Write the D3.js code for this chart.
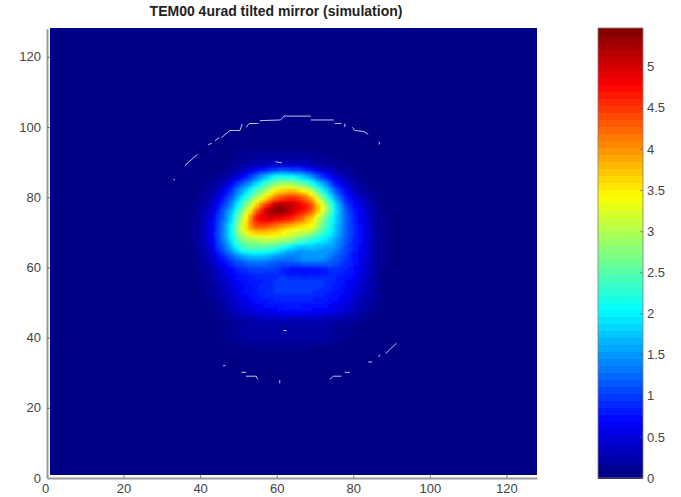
<!DOCTYPE html>
<html>
<head>
<meta charset="utf-8">
<script src="https://cdn.jsdelivr.net/npm/d3@7"></script>
<style>
body { margin: 0; background: #fff; }
text { font-family: "Liberation Sans", Arial, sans-serif; fill: #444; }
</style>
</head>
<body>
<div id="chart"></div>
<script>
// Valeurs
var title = "TEM00 4urad tilted mirror (simulation)";
var xTicks = [0, 20, 40, 60, 80, 100, 120];
var yTicks = [0, 20, 40, 60, 80, 100, 120];
var barTicks = [0, 0.5, 1, 1.5, 2, 2.5, 3, 3.5, 4, 4.5, 5];
var maxValue = 5.47;

// colonnes et lignes de la grille lue (unites de l'axe), zero en dehors
var gridX = [36, 39, 42, 45, 48, 51, 54, 57, 60, 63, 66, 69, 72, 75, 78, 81, 84, 87, 90];
var gridY = [98, 95, 92, 89, 86, 83, 80, 77, 74, 71, 68, 65, 62, 59, 56, 53, 50, 47, 44, 41, 38, 35];
var intensity = [
    [0, 0, 0, 0, 0, .01, .02, .02, .02, .02, .02, .02, .02, .01, 0, 0, 0, 0, 0],
    [0, 0, 0, .02, .03, .04, .05, .05, .05, .05, .05, .05, .04, .03, .02, 0, 0, 0, 0],
    [0, 0, .02, .04, .06, .1, .13, .15, .15, .15, .14, .12, .1, .07, .04, .02, 0, 0, 0],
    [0, .01, .02, .05, .1, .2, .3, .4, .45, .45, .45, .35, .25, .15, .1, .05, .02, 0, 0],
    [.01, .02, .05, .12, .3, .6, 1.1, 1.6, 2, 2, 1.8, 1.4, .9, .5, .25, .1, .04, .01, 0],
    [.02, .05, .12, .32, .8, 1.4, 2, 2.6, 3.1, 3.2, 3, 2.5, 1.8, 1, .5, .22, .08, .02, 0],
    [.03, .08, .2, .6, 1.2, 2, 2.8, 3.5, 4.2, 4.5, 4.4, 3.7, 2.6, 1.6, .85, .45, .2, .06, .01],
    [.04, .12, .35, .85, 1.6, 2.6, 3.7, 4.8, 5.4, 5.2, 4.9, 4.4, 3.3, 2.05, 1.1, .65, .32, .1, .02],
    [.05, .15, .45, 1.05, 1.9, 3.1, 4.5, 5, 4.9, 4.7, 4.3, 3.7, 2.8, 1.95, 1.2, .75, .4, .14, .03],
    [.05, .16, .5, 1.15, 2.1, 3.3, 4.1, 4.1, 3.9, 3.6, 3.4, 3.2, 2.5, 1.85, 1.2, .8, .42, .15, .03],
    [.05, .16, .5, 1.15, 2, 2.8, 3, 3.1, 3.1, 2.9, 2.6, 2.3, 2, 1.65, 1.15, .8, .42, .15, .03],
    [.04, .12, .4, .95, 1.6, 2.2, 2.35, 2.3, 2.1, 1.75, 1.55, 1.6, 1.55, 1.4, 1.05, .75, .4, .15, .03],
    [.03, .1, .3, .65, 1.05, 1.35, 1.5, 1.45, 1.3, 1.25, 1.4, 1.45, 1.4, 1.2, .95, .7, .38, .14, .03],
    [.03, .08, .2, .42, .7, .9, 1, 1, .95, .8, .72, .72, .8, .92, .85, .62, .34, .12, .03],
    [.02, .06, .15, .32, .55, .72, .82, .88, .95, .98, .98, .98, .95, .85, .72, .55, .3, .11, .02],
    [.02, .05, .11, .25, .45, .65, .8, .9, .95, .98, .98, .95, .9, .8, .65, .45, .26, .1, .02],
    [.01, .03, .08, .18, .35, .52, .68, .78, .82, .84, .84, .82, .78, .68, .54, .36, .2, .08, .02],
    [0, .02, .05, .12, .24, .38, .5, .58, .62, .64, .64, .62, .58, .5, .38, .25, .12, .05, .01],
    [0, .01, .03, .07, .12, .17, .2, .22, .22, .22, .22, .22, .2, .18, .14, .09, .05, .02, 0],
    [0, 0, .03, .07, .13, .18, .22, .24, .24, .24, .24, .24, .2, .16, .11, .07, .03, .01, 0],
    [0, 0, .01, .03, .08, .11, .13, .14, .14, .14, .14, .13, .11, .08, .05, .02, 0, 0, 0],
    [0, 0, 0, 0, .01, .02, .03, .03, .03, .03, .03, .03, .02, .01, 0, 0, 0, 0, 0]
];

// petits traits blancs de l'anneau (x, y)
var speckles = [
    [[36, 89], [39.3, 92.2]], [[33, 85], [33.4, 85]],
    [[42.1, 95], [43, 95.3]], [[43.9, 96.1], [45, 97]],
    [[45.6, 97], [47.8, 99], [50.4, 99], [51, 100.9]],
    [[52, 99.9], [52.8, 101], [55.2, 101]],
    [[55.6, 101.8], [61, 102], [61.9, 103.1], [68.9, 103.1]],
    [[68.9, 102], [74.9, 102]], [[75.2, 101], [76.9, 101]],
    [[77.8, 101], [77.8, 100]],
    [[79.8, 99.9], [80.4, 99], [82.8, 98.7], [83.9, 97.9]],
    [[86.8, 95.8], [86.8, 95]],
    [[59.7, 90.1], [61.3, 89.8]], [[61.7, 42], [62.6, 42]],
    [[88.5, 35.5], [91.3, 38.4]], [[86.5, 34.6], [87.1, 35]],
    [[83.9, 33], [84.9, 33.1]],
    [[73.9, 28.1], [74.8, 29], [76.9, 29]], [[77.8, 30.1], [79.1, 30.1]],
    [[46, 32], [46.6, 32]], [[50.8, 30.1], [52, 30.1]],
    [[52, 29], [54.7, 29], [55, 28.1]], [[60.8, 27.9], [60.8, 27]]
];

// Dimensions
var width = 681, height = 497;
var svg = d3.select("#chart").append("svg")
    .attr("width", width)
    .attr("height", height)
    .style("display", "block");

// Echelles
var x = d3.scaleLinear().domain([0, 128]).range([47, 537]);
var y = d3.scaleLinear().domain([0, 128]).range([478, 28.7]);
var cellX = d3.scaleBand().domain(d3.range(128)).range([50, 537]);
var cellY = d3.scaleBand().domain(d3.range(128)).range([475, 28]);
var barY = d3.scaleLinear().domain([0, maxValue]).range([478, 28]);

// palette jet a 64 niveaux
function jet(t) {
    function c(v) { return Math.round(255 * Math.max(0, Math.min(1, v))); }
    return d3.rgb(c(1.5 - Math.abs(4 * t - 3)), c(1.5 - Math.abs(4 * t - 2)), c(1.5 - Math.abs(4 * t - 1))).formatHex();
}
var jetColors = d3.range(64).map(function (i) { return jet((i + 0.5) / 64); });
var color = d3.scaleQuantize().domain([0, maxValue]).range(jetColors);

// lissage de la grille a l'affichage (comme shading interp)
function cubic(p0, p1, p2, p3, t) {
    return p1 + 0.5 * t * (p2 - p0 + t * (2 * p0 - 5 * p1 + 4 * p2 - p3 + t * (3 * (p1 - p2) + p3 - p0)));
}
function at(r, c) {
    r = Math.max(0, Math.min(gridY.length - 1, r));
    c = Math.max(0, Math.min(gridX.length - 1, c));
    return intensity[r][c];
}
function sample(vx, vy) {
    var fc = (vx - gridX[0]) / (gridX[1] - gridX[0]);
    var fr = (gridY[0] - vy) / (gridY[0] - gridY[1]);
    if (fc < 0 || fr < 0 || fc > gridX.length - 1 || fr > gridY.length - 1) return 0;
    var c0 = Math.floor(fc), r0 = Math.floor(fr);
    var rows = [-1, 0, 1, 2].map(function (dr) {
        return cubic(at(r0 + dr, c0 - 1), at(r0 + dr, c0), at(r0 + dr, c0 + 1), at(r0 + dr, c0 + 2), fc - c0);
    });
    return Math.max(0, Math.min(maxValue, cubic(rows[0], rows[1], rows[2], rows[3], fr - r0)));
}

var cells = [];
d3.range(128).forEach(function (j) {
    d3.range(128).forEach(function (i) {
        cells.push({ i: i, j: j, v: sample(i + 0.75, j + 0.75) });
    });
});

// flou leger, l'original est une image compressee
var defs = svg.append("defs");
defs.append("filter")
    .attr("id", "soft")
    .append("feGaussianBlur")
    .attr("stdDeviation", 1);
defs.append("clipPath")
    .attr("id", "imgClip")
    .append("rect")
    .attr("x", 50)
    .attr("y", 28)
    .attr("width", 487)
    .attr("height", 447);

// Image
var imgGroup = svg.append("g").attr("clip-path", "url(#imgClip)");
imgGroup.append("rect")
    .attr("x", 50)
    .attr("y", 28)
    .attr("width", 487)
    .attr("height", 447)
    .attr("fill", jetColors[0]);
imgGroup.append("g")
    .attr("filter", "url(#soft)")
    .attr("shape-rendering", "crispEdges")
    .selectAll("rect")
    .data(cells)
    .enter().append("rect")
    .attr("x", function (d) { return cellX(d.i); })
    .attr("y", function (d) { return cellY(d.j); })
    .attr("width", cellX.bandwidth() + 0.5)
    .attr("height", cellY.bandwidth() + 0.5)
    .attr("fill", function (d) { return color(d.v); });

// Traits blancs
var line = d3.line()
    .x(function (d) { return x(d[0]); })
    .y(function (d) { return y(d[1]); });
svg.append("g").selectAll("path")
    .data(speckles)
    .enter().append("path")
    .attr("d", line)
    .attr("fill", "none")
    .attr("stroke", "#dfe4f5")
    .attr("stroke-opacity", 0.85)
    .attr("stroke-width", 1);

// Axes
var xAxis = svg.append("g")
    .attr("transform", "translate(0,478)")
    .call(d3.axisBottom(x).tickValues(xTicks).tickSize(-3).tickPadding(6).tickSizeOuter(0));
var yAxis = svg.append("g")
    .attr("transform", "translate(47,0)")
    .call(d3.axisLeft(y).tickValues(yTicks).tickSize(-3).tickPadding(6).tickSizeOuter(0));
[xAxis, yAxis].forEach(function (a) {
    a.selectAll("text").style("font-size", "13px").attr("font-family", null);
    a.select(".domain").attr("stroke", "#9a9a9a").attr("stroke-width", 2);
    a.selectAll(".tick line").attr("stroke", "#777");
});
xAxis.selectAll(".tick").filter(function (d) { return d === 0; }).select("line").remove();
yAxis.selectAll(".tick").filter(function (d) { return d === 0; }).select("line").remove();
xAxis.selectAll(".tick").filter(function (d) { return d === 0; }).select("text").attr("dx", -2);

// Titre
svg.append("text")
    .attr("x", 276)
    .attr("y", 16)
    .attr("text-anchor", "middle")
    .style("font-size", "14px")
    .style("font-weight", "bold")
    .style("fill", "#222")
    .text(title);

// Barre de couleur
var barLevels = d3.range(64);
svg.append("g")
    .attr("shape-rendering", "crispEdges")
    .selectAll("rect")
    .data(barLevels)
    .enter().append("rect")
    .attr("x", 598)
    .attr("width", 45)
    .attr("y", function (d) { return barY((d + 1) / 64 * maxValue); })
    .attr("height", function (d) { return barY(d / 64 * maxValue) - barY((d + 1) / 64 * maxValue) + 0.5; })
    .attr("fill", function (d) { return jetColors[d]; });
svg.append("rect")
    .attr("x", 598)
    .attr("y", 28)
    .attr("width", 45)
    .attr("height", 450)
    .attr("fill", "none")
    .attr("stroke", "#8a7a80")
    .attr("stroke-width", 0.8);

var barAxis = svg.append("g")
    .attr("transform", "translate(643,0)")
    .call(d3.axisRight(barY).tickValues(barTicks).tickFormat(d3.format("")).tickSize(-3).tickPadding(4).tickSizeOuter(0));
barAxis.select(".domain").remove();
barAxis.selectAll("text").style("font-size", "13px").attr("font-family", null);
barAxis.selectAll(".tick line").attr("stroke", "#555").attr("stroke-opacity", 0.6);
</script>
</body>
</html>
